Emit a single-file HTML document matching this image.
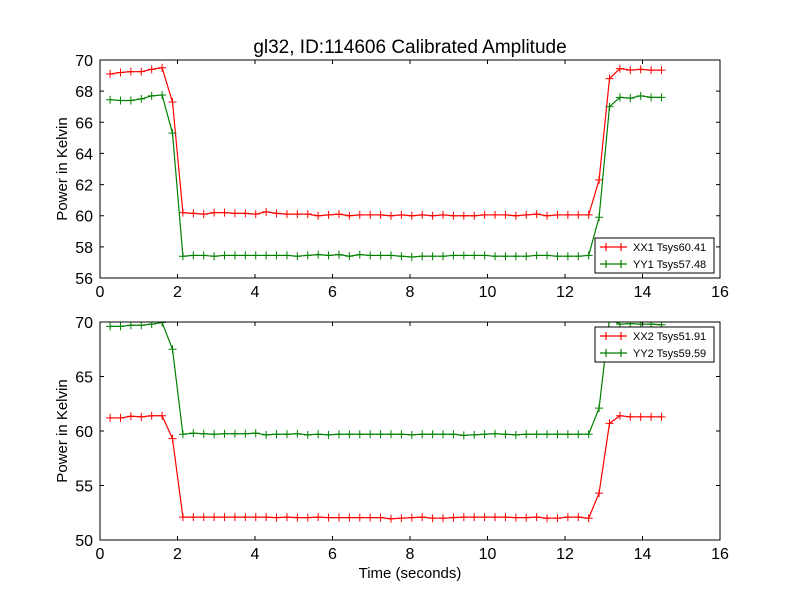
<!DOCTYPE html>
<html><head><meta charset="utf-8"><style>
body{margin:0;background:#fff;}
svg{display:block;font-family:"Liberation Sans","DejaVu Sans",sans-serif;}
</style></head><body>
<svg id="c" width="800" height="600" viewBox="0 0 800 600">
<rect width="800" height="600" fill="#fff"/>
<text x="410" y="53" text-anchor="middle" font-size="19">gl32, ID:114606 Calibrated Amplitude</text>
<text x="410" y="578" text-anchor="middle" font-size="15">Time (seconds)</text>
<g id="g"></g>
</svg>
<script>
const t0 = 0.26, dt = 0.2685, N = 54;
const xx1High = [69.1,69.2,69.25,69.25,69.4,69.5,67.3];
const xx1Low = [60.2,60.15,60.1,60.2,60.2,60.15,60.15,60.1,60.25,60.15,60.1,60.1,60.1,60.0,60.05,60.1,60.0,60.05,60.05,60.05,60.0,60.05,60.0,60.05,60.0,60.05,60.0,60.0,60.0,60.05,60.05,60.05,60.0,60.05,60.1,60.0,60.05,60.05,60.05,60.05];
const xx1End = [62.3,68.8,69.45,69.35,69.4,69.35,69.35];
const yy1High = [67.45,67.4,67.4,67.5,67.7,67.75,65.3];
const yy1Low = [57.4,57.45,57.45,57.4,57.45,57.45,57.45,57.45,57.45,57.45,57.45,57.4,57.45,57.5,57.45,57.5,57.4,57.5,57.45,57.45,57.45,57.4,57.35,57.4,57.4,57.4,57.45,57.45,57.45,57.45,57.4,57.4,57.4,57.4,57.45,57.45,57.4,57.4,57.4,57.45];
const yy1End = [59.9,67.0,67.6,67.55,67.7,67.6,67.6];
const xx2High = [61.2,61.2,61.35,61.3,61.4,61.4,59.3];
const xx2Low = [52.1,52.1,52.1,52.1,52.1,52.1,52.1,52.1,52.1,52.05,52.1,52.05,52.05,52.1,52.05,52.05,52.05,52.05,52.05,52.05,51.95,52.0,52.05,52.1,52.0,52.0,52.05,52.1,52.1,52.1,52.1,52.1,52.05,52.05,52.1,52.0,52.0,52.1,52.1,52.0];
const xx2End = [54.3,60.7,61.4,61.3,61.3,61.3,61.3];
const yy2High = [69.6,69.6,69.7,69.7,69.8,69.95,67.5];
const yy2Low = [59.7,59.8,59.75,59.7,59.75,59.75,59.75,59.8,59.65,59.7,59.7,59.75,59.65,59.7,59.65,59.7,59.7,59.7,59.7,59.7,59.7,59.7,59.65,59.7,59.7,59.7,59.7,59.6,59.65,59.7,59.75,59.7,59.65,59.7,59.7,59.7,59.7,59.7,59.7,59.7];
const yy2End = [62.1,70.3,69.8,69.85,69.8,69.8,69.75];
const xTicks = [0,2,4,6,8,10,12,14,16];
const yTicksTop = [56,58,60,62,64,66,68,70];
const yTicksBot = [50,55,60,65,70];

const NS = "http://www.w3.org/2000/svg";
const G = document.getElementById('g');
function mk(tag, attrs, parent){const e=document.createElementNS(NS,tag);for(const k in attrs)e.setAttribute(k,attrs[k]);(parent||G).appendChild(e);return e;}
const X0=100,X1=720;
const xs = v => X0 + (v-0)/(16-0)*(X1-X0);

const panels = [
 {top:60,bot:278,ymin:56,ymax:70,ticks:yTicksTop,series:[[xx1High,xx1Low,xx1End,'#ff0000','XX1 Tsys60.41'],[yy1High,yy1Low,yy1End,'#008000','YY1 Tsys57.48']],leg:[595,238],name:'top'},
 {top:322,bot:540,ymin:50,ymax:70,ticks:yTicksBot,series:[[xx2High,xx2Low,xx2End,'#ff0000','XX2 Tsys51.91'],[yy2High,yy2Low,yy2End,'#008000','YY2 Tsys59.59']],leg:[595,327],name:'bottom'}
];
panels.forEach((p,pi)=>{
  const ys = v => p.bot - (v-p.ymin)/(p.ymax-p.ymin)*(p.bot-p.top);
  const cid='clip'+pi;
  const cp=mk('clipPath',{id:cid});
  mk('rect',{x:X0,y:p.top,width:X1-X0,height:p.bot-p.top},cp);
  const gp=mk('g',{'clip-path':'url(#'+cid+')'});
  
  
  p.series.forEach(s=>{
    const vals=s[0].concat(s[1],s[2]);
    const pts=vals.map((v,i)=>[xs(t0+i*dt),ys(v)]);
    const line=mk('polyline',{points:pts.map(q=>q.join(',')).join(' '),fill:'none',stroke:s[3],'stroke-width':1.2},gp);
    
    
    let d='';pts.forEach(q=>{d+=`M${q[0]-4},${q[1]}h8M${q[0]},${q[1]-4}v8`;});
    const m=mk('path',{d:d,stroke:s[3],'stroke-width':1},gp);
    
    
  });
  const fr=mk('rect',{x:X0,y:p.top,width:X1-X0,height:p.bot-p.top,fill:'none',stroke:'#000','stroke-width':1});
  
  
  xTicks.forEach(v=>{
    const x=xs(v);
    mk('path',{d:`M${x},${p.bot}v-4M${x},${p.top}v4`,stroke:'#000'});
    const t=mk('text',{x:x,y:p.bot+19,'text-anchor':'middle','font-size':16});
    t.textContent=v;
    
    
  });
  p.ticks.forEach(v=>{
    const y=ys(v);
    mk('path',{d:`M${X0},${y}h4M${X1},${y}h-4`,stroke:'#000'});
    const t=mk('text',{x:X0-7,y:y+6,'text-anchor':'end','font-size':16});
    t.textContent=v;
    
    
  });
  const yl=mk('text',{x:0,y:0,'text-anchor':'middle','font-size':15,transform:`translate(67,${(p.top+p.bot)/2}) rotate(-90)`});
  yl.textContent='Power in Kelvin';
  
  
  const lg=mk('g',{});
  
  
  const [lx,ly]=p.leg;
  mk('rect',{x:lx,y:ly,width:119,height:35,fill:'#fff',stroke:'#000','stroke-width':1},lg);
  p.series.forEach((s,i)=>{
    const yy=ly+9+i*17;
    const e=mk('g',{},lg);
    
    
    mk('path',{d:`M${lx+5},${yy}h27M${lx+11},${yy-4}v8M${lx+26},${yy-4}v8`,stroke:s[3],'stroke-width':1.2},e);
    const t=mk('text',{x:lx+38,y:yy+4,'font-size':11},e);
    t.textContent=s[4];
  });
});
</script>
</body></html>
